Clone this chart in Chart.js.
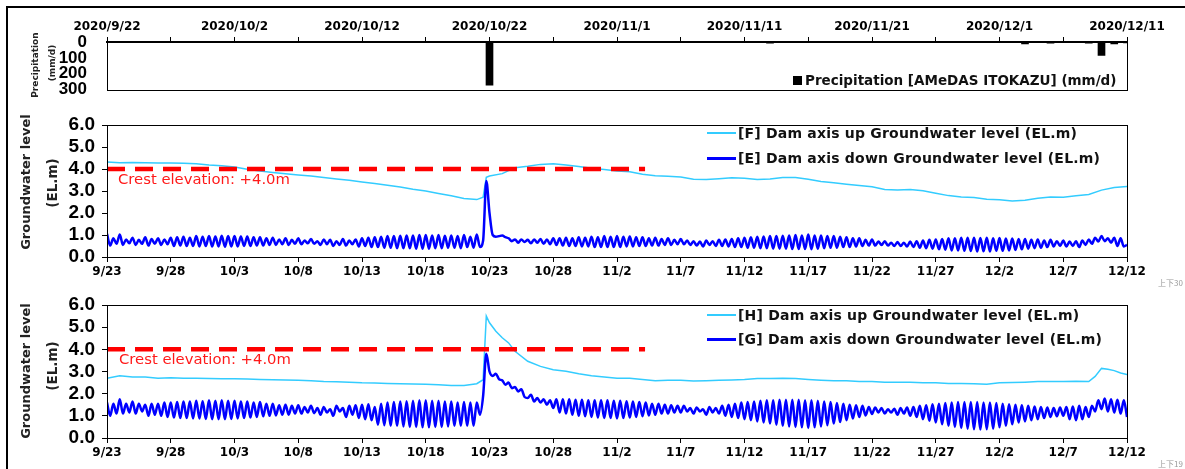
<!DOCTYPE html>
<html>
<head>
<meta charset="utf-8">
<script src="https://cdn.jsdelivr.net/npm/chart.js@4.4.1/dist/chart.umd.min.js"></script>
<style>
  html, body { margin: 0; background: #fff; width: 1185px; height: 469px; overflow: hidden; }
  body { position: relative; }
  canvas { position: absolute; left: 0; }
  .frame { position: absolute; left: 6px; top: 6px; width: 1179px; height: 463px; border-left: 2px solid #000; border-top: 2px solid #000; box-sizing: border-box; }
  .txt { position: absolute; white-space: nowrap; }
  .rot { transform: translate(-50%, -50%) rotate(-90deg); font-family: "DejaVu Sans", sans-serif; font-weight: bold; color: #222; }
  .leg { position: absolute; display: flex; align-items: center; font-family: "DejaVu Sans", sans-serif; font-weight: bold; font-size: 14px; letter-spacing: 0.2px; color: #111; white-space: nowrap; }
  .crest { position: absolute; font-family: "DejaVu Sans", sans-serif; font-size: 14.8px; color: #ff1a1a; white-space: nowrap; }
  .tag { position: absolute; font-family: "Noto Sans CJK JP", sans-serif; font-size: 8px; color: #999; }
</style>
</head>
<body>
<div class="frame"></div>
<canvas id="rain" width="1185" height="110" style="top:0"></canvas>
<canvas id="lvl1" width="1185" height="185" style="top:100px"></canvas>
<canvas id="lvl2" width="1185" height="184" style="top:285px"></canvas>

<div class="txt rot" style="left:35px;top:65px;font-size:9px">Precipitation</div>
<div class="txt rot" style="left:52px;top:63px;font-size:9px">(mm/d)</div>
<div class="txt rot" style="left:25px;top:182px;font-size:13px">Groundwater level</div>
<div class="txt rot" style="left:52px;top:183px;font-size:13.5px">(EL.m)</div>
<div class="txt rot" style="left:25px;top:371px;font-size:13px">Groundwater level</div>
<div class="txt rot" style="left:52px;top:366px;font-size:13.5px">(EL.m)</div>

<div class="crest" style="left:118px;top:170px">Crest elevation: +4.0m</div>
<div class="crest" style="left:119px;top:350px">Crest elevation: +4.0m</div>

<div id="legRain" class="leg" style="left:793px;top:72px;font-size:13.5px;letter-spacing:0"></div>
<div id="leg1a" class="leg" style="left:707px;top:125px"></div>
<div id="leg1b" class="leg" style="left:707px;top:150px"></div>
<div id="leg2a" class="leg" style="left:707px;top:307px"></div>
<div id="leg2b" class="leg" style="left:707px;top:331px"></div>

<div class="tag" style="left:1158px;top:277px">上下30</div>
<div class="tag" style="left:1158px;top:458px">上下19</div>

<script>
// x axis: days since 9/23 (0 = 9/23, 80 = 12/12)
const dayLabels = ['9/23', '9/28', '10/3', '10/8', '10/13', '10/18', '10/23', '10/28', '11/2',
  '11/7', '11/12', '11/17', '11/22', '11/27', '12/2', '12/7', '12/12'];
const rainLabels = ['2020/9/22', '2020/10/2', '2020/10/12', '2020/10/22', '2020/11/1',
  '2020/11/11', '2020/11/21', '2020/12/1', '2020/12/11'];

// daily precipitation (mm/d)
const rainName = 'Precipitation [AMeDAS ITOKAZU] (mm/d)';
const rainDays = [1, 19, 29, 30, 52, 72, 74, 77, 78, 79, 80];
const rainValues = [3, 3, 3, 273, 8, 12, 8, 8, 84, 12, 6];

// crest line
const crestDays = [0, 42.2];
const crestLevel = 4.0;

// [F] up-stream level, read once a day (plus points around the rain)
const fName = '[F] Dam axis up Groundwater level (EL.m)';
const fDays = [0, 1, 2, 3, 4, 5, 6, 7, 8, 9, 10, 11, 12, 13, 14, 15, 16, 17, 18, 19,
  20, 21, 22, 23, 24, 25, 26, 27, 28, 29, 29.5, 29.75,
  30, 31, 32, 33, 34, 35, 36, 37, 38, 39, 40, 41, 42, 43, 44, 45, 46, 47, 48, 49,
  50, 51, 52, 53, 54, 55, 56, 57, 58, 59, 60, 61, 62, 63, 64, 65, 66, 67, 68, 69,
  70, 71, 72, 73, 74, 75, 76, 77, 78, 79, 80];
const fLevel = [4.32, 4.28, 4.30, 4.28, 4.27, 4.27, 4.26, 4.24, 4.18, 4.15,
  4.09, 3.99, 3.91, 3.84, 3.78, 3.73, 3.68, 3.61, 3.55, 3.49,
  3.41, 3.34, 3.26, 3.18, 3.08, 3.00, 2.89, 2.78, 2.66, 2.61, 2.72, 3.62,
  3.68, 3.79, 4.06, 4.12, 4.21, 4.24, 4.18, 4.11, 4.03, 3.98,
  3.91, 3.87, 3.76, 3.69, 3.67, 3.64, 3.53, 3.52, 3.56, 3.60,
  3.58, 3.52, 3.55, 3.61, 3.61, 3.53, 3.43, 3.38, 3.31, 3.25,
  3.19, 3.07, 3.04, 3.07, 3.01, 2.90, 2.79, 2.73, 2.70, 2.63,
  2.60, 2.55, 2.58, 2.67, 2.73, 2.72, 2.78, 2.84, 3.04, 3.16, 3.20];

// [E] down-stream level, read every 6 hours (tidal)
const eName = '[E] Dam axis down Groundwater level (EL.m)';
const eLevel = [
  1.05, 0.52, 0.85, 0.60,  // 9/23
  1.02, 0.55, 0.80, 0.62,
  0.88, 0.55, 0.78, 0.60,
  0.90, 0.52, 0.82, 0.60,
  0.85, 0.55, 0.80, 0.58,
  0.88, 0.50, 0.90, 0.52,  // 9/28
  0.92, 0.50, 0.88, 0.50,
  0.95, 0.48, 0.92, 0.50,
  0.96, 0.48, 0.93, 0.48,
  0.97, 0.47, 0.95, 0.48,
  0.95, 0.48, 0.93, 0.50,  // 10/3
  0.93, 0.50, 0.90, 0.52,
  0.90, 0.52, 0.85, 0.55,
  0.88, 0.55, 0.80, 0.58,
  0.85, 0.55, 0.78, 0.60,
  0.85, 0.58, 0.75, 0.62,  // 10/8
  0.82, 0.60, 0.72, 0.55,
  0.80, 0.58, 0.78, 0.50,
  0.72, 0.55, 0.82, 0.52,
  0.75, 0.58, 0.80, 0.48,
  0.85, 0.50, 0.88, 0.45,  // 10/13
  0.90, 0.45, 0.92, 0.42,
  0.95, 0.42, 0.95, 0.40,
  0.97, 0.40, 0.98, 0.40,
  0.98, 0.38, 1.00, 0.38,
  1.00, 0.38, 0.98, 0.40,  // 10/18
  1.00, 0.40, 0.97, 0.42,
  0.98, 0.42, 0.95, 0.40,
  1.00, 0.45, 0.92, 0.42,
  1.02, 0.45, 0.75, 3.45,
  2.00, 1.00, 0.92, 0.95,  // 10/23
  0.98, 0.90, 0.85, 0.72,
  0.80, 0.65, 0.80, 0.68,
  0.78, 0.62, 0.80, 0.65,
  0.82, 0.60, 0.80, 0.58,
  0.85, 0.55, 0.85, 0.52,  // 10/28
  0.88, 0.50, 0.85, 0.50,
  0.90, 0.48, 0.88, 0.48,
  0.92, 0.45, 0.90, 0.45,
  0.95, 0.45, 0.92, 0.45,
  0.95, 0.45, 0.92, 0.48,  // 11/2
  0.93, 0.48, 0.90, 0.50,
  0.90, 0.50, 0.85, 0.52,
  0.88, 0.52, 0.82, 0.55,
  0.85, 0.55, 0.78, 0.58,
  0.82, 0.58, 0.75, 0.55,  // 11/7
  0.72, 0.52, 0.70, 0.48,
  0.75, 0.55, 0.72, 0.50,
  0.78, 0.50, 0.80, 0.48,
  0.82, 0.45, 0.85, 0.45,
  0.88, 0.42, 0.90, 0.42,  // 11/12
  0.92, 0.40, 0.93, 0.40,
  0.95, 0.38, 0.95, 0.38,
  0.97, 0.38, 0.98, 0.36,
  1.00, 0.36, 0.98, 0.36,
  1.02, 0.35, 0.98, 0.38,  // 11/17
  0.98, 0.40, 0.95, 0.42,
  0.95, 0.42, 0.92, 0.45,
  0.90, 0.45, 0.85, 0.48,
  0.85, 0.50, 0.78, 0.52,
  0.80, 0.52, 0.70, 0.55,  // 11/22
  0.72, 0.52, 0.65, 0.50,
  0.68, 0.50, 0.65, 0.48,
  0.70, 0.45, 0.72, 0.42,
  0.75, 0.40, 0.78, 0.38,
  0.80, 0.35, 0.82, 0.33,  // 11/27
  0.85, 0.30, 0.85, 0.30,
  0.88, 0.28, 0.87, 0.27,
  0.88, 0.25, 0.86, 0.26,
  0.87, 0.25, 0.85, 0.28,
  0.86, 0.28, 0.84, 0.30,  // 12/2
  0.84, 0.32, 0.82, 0.35,
  0.82, 0.38, 0.78, 0.40,
  0.80, 0.42, 0.75, 0.45,
  0.78, 0.48, 0.72, 0.50,
  0.75, 0.48, 0.70, 0.50,  // 12/7
  0.72, 0.45, 0.75, 0.55,
  0.80, 0.60, 0.88, 0.70,
  0.95, 0.72, 0.85, 0.65,
  0.88, 0.50, 0.85, 0.48,
  0.55                     // 12/12
];

// [H] up-stream level, second section
const hName = '[H] Dam axis up Groundwater level (EL.m)';
const hDays = [0, 1, 2, 3, 4, 5, 6, 7, 8, 9, 10, 11, 12, 13, 14, 15, 16, 17, 18, 19,
  20, 21, 22, 23, 24, 25, 26, 27, 28, 29, 29.5, 29.75, 30, 30.5, 31, 31.5,
  32, 33, 34, 35, 36, 37, 38, 39, 40, 41, 42, 43, 44, 45, 46, 47, 48, 49,
  50, 51, 52, 53, 54, 55, 56, 57, 58, 59, 60, 61, 62, 63, 64, 65, 66, 67, 68, 69,
  70, 71, 72, 73, 74, 75, 76, 77, 77.5, 78, 78.5, 79, 79.5, 80];
const hLevel = [2.70, 2.81, 2.75, 2.75, 2.70, 2.72, 2.70, 2.70, 2.68, 2.67,
  2.67, 2.66, 2.64, 2.63, 2.62, 2.60, 2.58, 2.55, 2.54, 2.52,
  2.49, 2.48, 2.46, 2.45, 2.44, 2.42, 2.40, 2.37, 2.37, 2.45, 2.63, 5.50,
  5.20, 4.82, 4.52, 4.29,
  3.91, 3.46, 3.23, 3.08, 3.01, 2.90, 2.81, 2.75,
  2.70, 2.70, 2.64, 2.58, 2.61, 2.61, 2.57, 2.58, 2.60, 2.62,
  2.64, 2.68, 2.68, 2.70, 2.68, 2.64, 2.61, 2.58, 2.58, 2.55,
  2.55, 2.52, 2.52, 2.51, 2.49, 2.49, 2.46, 2.46, 2.45, 2.43,
  2.49, 2.50, 2.52, 2.55, 2.55, 2.55, 2.56, 2.55, 2.78, 3.14, 3.10, 3.04, 2.93, 2.86];

// [G] down-stream level, every 6 hours
const gName = '[G] Dam axis down Groundwater level (EL.m)';
const gLevel = [
  1.60, 1.00, 1.55, 1.10,  // 9/23
  1.75, 1.10, 1.55, 1.15,
  1.65, 1.10, 1.55, 1.20,
  1.50, 1.00, 1.55, 1.05,
  1.55, 1.00, 1.60, 0.95,
  1.60, 0.92, 1.62, 0.90,  // 9/28
  1.65, 0.90, 1.65, 0.88,
  1.68, 0.88, 1.66, 0.86,
  1.70, 0.85, 1.68, 0.85,
  1.70, 0.85, 1.68, 0.86,
  1.68, 0.88, 1.65, 0.90,  // 10/3
  1.65, 0.92, 1.60, 0.95,
  1.62, 0.98, 1.55, 1.00,
  1.55, 1.02, 1.48, 1.05,
  1.50, 1.05, 1.45, 1.10,
  1.48, 1.10, 1.40, 1.15,  // 10/8
  1.45, 1.12, 1.35, 1.05,
  1.40, 1.15, 1.30, 1.00,
  1.45, 1.20, 1.35, 0.95,
  1.45, 1.05, 1.48, 0.90,
  1.50, 0.85, 1.52, 0.80,  // 10/13
  1.40, 0.60, 1.55, 0.58,
  1.60, 0.55, 1.62, 0.55,
  1.65, 0.52, 1.66, 0.50,
  1.68, 0.50, 1.70, 0.48,
  1.70, 0.48, 1.68, 0.50,  // 10/18
  1.68, 0.50, 1.65, 0.52,
  1.65, 0.55, 1.60, 0.55,
  1.62, 0.55, 1.60, 0.55,
  1.60, 1.05, 1.90, 3.80,
  3.00, 2.80, 2.90, 2.65,  // 10/23
  2.60, 2.40, 2.50, 2.25,
  2.30, 2.10, 2.20, 1.85,
  1.80, 1.95, 1.65, 1.80,
  1.60, 1.75, 1.50, 1.70,
  1.35, 1.75, 1.15, 1.75,  // 10/28
  1.10, 1.75, 1.05, 1.72,
  1.00, 1.72, 0.98, 1.70,
  0.95, 1.70, 0.92, 1.70,
  0.90, 1.70, 0.90, 1.68,
  0.88, 1.68, 0.90, 1.66,  // 11/2
  0.92, 1.65, 0.95, 1.62,
  0.98, 1.60, 1.02, 1.55,
  1.05, 1.55, 1.10, 1.50,
  1.10, 1.48, 1.15, 1.45,
  1.15, 1.45, 1.20, 1.35,  // 11/7
  1.10, 1.38, 1.20, 1.30,
  1.05, 1.40, 1.15, 1.35,
  1.10, 1.45, 1.00, 1.50,
  0.95, 1.55, 0.90, 1.60,
  0.85, 1.62, 0.80, 1.65,  // 11/12
  0.75, 1.68, 0.70, 1.70,
  0.65, 1.70, 0.60, 1.72,
  0.55, 1.72, 0.52, 1.72,
  0.50, 1.72, 0.48, 1.70,
  0.45, 1.70, 0.48, 1.68,  // 11/17
  0.52, 1.65, 0.58, 1.62,
  0.65, 1.58, 0.72, 1.55,
  0.80, 1.50, 0.88, 1.48,
  0.95, 1.45, 1.02, 1.40,
  1.08, 1.38, 1.15, 1.35,  // 11/22
  1.10, 1.30, 1.15, 1.32,
  1.05, 1.35, 1.10, 1.38,
  1.00, 1.40, 0.95, 1.45,
  0.85, 1.48, 0.78, 1.52,
  0.70, 1.55, 0.62, 1.58,  // 11/27
  0.55, 1.60, 0.50, 1.62,
  0.45, 1.62, 0.42, 1.62,
  0.40, 1.62, 0.38, 1.60,
  0.40, 1.60, 0.42, 1.58,
  0.48, 1.55, 0.55, 1.52,  // 12/2
  0.62, 1.50, 0.70, 1.48,
  0.75, 1.45, 0.80, 1.42,
  0.85, 1.40, 0.90, 1.38,
  0.95, 1.35, 0.98, 1.38,
  1.00, 1.40, 0.85, 1.42,  // 12/7
  0.80, 1.45, 0.85, 1.40,
  0.95, 1.45, 1.20, 1.70,
  1.30, 1.78, 1.20, 1.75,
  1.15, 1.72, 1.10, 1.70,
  0.95                     // 12/12
];

const upColor = '#33ccff';
const downColor = '#0000ff';
const crestColor = '#ff0000';

Chart.defaults.font.family = '"DejaVu Sans", sans-serif';
Chart.defaults.color = '#000';

// plot frame around the chart area
const boxPlugin = {
  id: 'box',
  afterDatasetsDraw(chart) {
    const a = chart.chartArea;
    const c = chart.ctx;
    c.save();
    c.strokeStyle = '#000';
    c.lineWidth = 1;
    c.strokeRect(Math.round(a.left) + 0.5, Math.round(a.top) + 0.5, Math.round(a.width), Math.round(a.height));
    c.restore();
  }
};

function toPoints(days, values) {
  return values.map((v, i) => ({ x: days[i], y: v }));
}

// 4 readings a day
function tidePoints(values) {
  return values.map((v, i) => ({ x: i / 4, y: v }));
}

function legendHtml(el, name, color, width) {
  document.getElementById(el).innerHTML =
    '<span style="display:inline-block;width:29px;height:0;border-top:' + width + 'px solid ' + color +
    ';margin-right:2px"></span>' + name;
}

// rainfall bar chart, axis upside down
new Chart(document.getElementById('rain'), {
  type: 'bar',
  data: {
    datasets: [{
      label: rainName,
      data: toPoints(rainDays, rainValues),
      backgroundColor: '#000',
      barThickness: 7
    }]
  },
  options: {
    responsive: false,
    animation: false,
    layout: { padding: { left: 0, right: 58, top: 0, bottom: 5 } },
    plugins: { legend: { display: false }, tooltip: { enabled: false } },
    scales: {
      x: {
        type: 'linear',
        position: 'top',
        offset: false,
        min: 0,
        max: 80,
        afterFit: (s) => { s.height = 42; },
        grid: { drawOnChartArea: false, offset: false, tickLength: 5, color: '#000' },
        border: { color: '#000', width: 2 },
        ticks: {
          stepSize: 5,
          autoSkip: false,
          maxRotation: 0,
          padding: 3,
          font: { size: 12, weight: 'bold' },
          callback: (v) => (v % 10 === 0 ? rainLabels[v / 10] : '')
        }
      },
      y: {
        reverse: true,
        min: 0,
        max: 300,
        afterFit: (s) => { s.width = 107; },
        grid: { display: false },
        border: { color: '#000' },
        ticks: {
          stepSize: 100,
          autoSkip: false,
          padding: 12,
          font: { family: '"Liberation Sans Narrow", sans-serif', size: 17, weight: 'bold', lineHeight: 1 }
        }
      }
    }
  },
  plugins: [boxPlugin]
});

function levelChart(id, padTop, axisH, upName, upData, downName, downData) {
  new Chart(document.getElementById(id), {
    type: 'line',
    data: {
      datasets: [
        {
          label: 'Crest elevation',
          data: crestDays.map((d) => ({ x: d, y: crestLevel })),
          borderColor: crestColor,
          borderWidth: 4.5,
          borderDash: [18, 10],
          pointRadius: 0,
          order: 0
        },
        {
          label: downName,
          data: downData,
          borderColor: downColor,
          borderWidth: 2.5,
          pointRadius: 0,
          cubicInterpolationMode: 'monotone',
          order: 1
        },
        {
          label: upName,
          data: upData,
          borderColor: upColor,
          borderWidth: 1.5,
          pointRadius: 0,
          tension: 0,
          order: 2
        }
      ]
    },
    options: {
      responsive: false,
      animation: false,
      layout: { padding: { left: 0, right: 58, top: padTop, bottom: 0 } },
      plugins: { legend: { display: false }, tooltip: { enabled: false } },
      scales: {
        x: {
          type: 'linear',
          min: 0,
          max: 80,
          afterFit: (s) => { s.height = axisH; },
          grid: { drawOnChartArea: false, tickLength: 5, color: '#000' },
          border: { color: '#000' },
          ticks: {
            stepSize: 5,
            autoSkip: false,
            maxRotation: 0,
            padding: 3,
            font: { size: 12, weight: 'bold' },
            callback: (v) => dayLabels[v / 5]
          }
        },
        y: {
          min: 0,
          max: 6,
          afterFit: (s) => { s.width = 107; },
          grid: { drawOnChartArea: false, tickLength: 5, color: '#000' },
          border: { color: '#000' },
          ticks: {
            stepSize: 1,
            autoSkip: false,
            padding: 7,
            font: { family: '"Liberation Sans Narrow", sans-serif', size: 19, weight: 'bold' },
            callback: (v) => v.toFixed(1)
          }
        }
      }
    },
    plugins: [boxPlugin]
  });
}

levelChart('lvl1', 25, 28, fName, toPoints(fDays, fLevel), eName, tidePoints(eLevel));
levelChart('lvl2', 20, 31, hName, toPoints(hDays, hLevel), gName, tidePoints(gLevel));

document.getElementById('legRain').innerHTML =
  '<span style="display:inline-block;width:9px;height:9px;background:#000;margin-right:3px"></span>' + rainName;
legendHtml('leg1a', fName, upColor, 2);
legendHtml('leg1b', eName, downColor, 3);
legendHtml('leg2a', hName, upColor, 2);
legendHtml('leg2b', gName, downColor, 3);
</script>
</body>
</html>
